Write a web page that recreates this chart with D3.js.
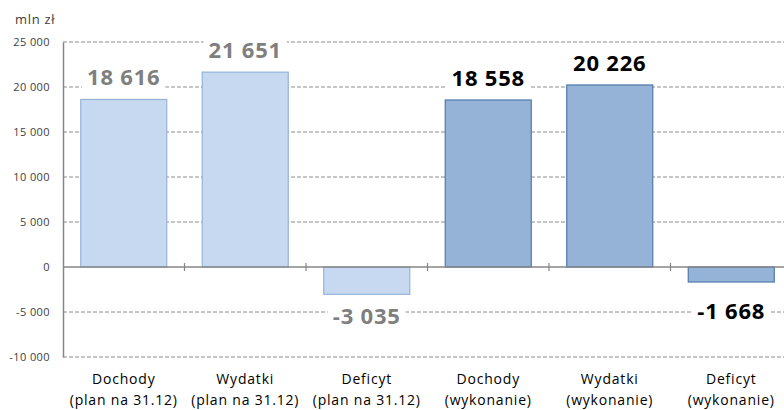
<!DOCTYPE html>
<html>
<head>
<meta charset="utf-8">
<script src="https://cdn.jsdelivr.net/npm/d3@7"></script>
<style>
  body { margin: 0; background: #fff; }
  svg text { font-family: "Open Sans", "DejaVu Sans", sans-serif; }
</style>
</head>
<body>
<svg id="chart" width="784" height="410"></svg>
<script>
// dane
const catNames = ['Dochody', 'Wydatki', 'Deficyt', 'Dochody', 'Wydatki', 'Deficyt'];
const catNotes = ['(plan na 31.12)', '(plan na 31.12)', '(plan na 31.12)', '(wykonanie)', '(wykonanie)', '(wykonanie)'];
const values = [18616, 21651, -3035, 18558, 20226, -1668];
const kind = ['plan', 'plan', 'plan', 'wyk', 'wyk', 'wyk'];
const yTicks = [-10000, -5000, 0, 5000, 10000, 15000, 20000, 25000];
const unit = 'mln zł';

const fill = { plan: '#c6d9f1', wyk: '#95b3d7' };
const stroke = { plan: '#95b3d7', wyk: '#4f79ab' };
const labelColor = { plan: '#7f7f7f', wyk: '#000000' };

const pl = d3.formatLocale({ decimal: ',', thousands: ' ', grouping: [3], currency: ['', ' zł'], minus: '-' });
const fmt = pl.format(',d');

const svg = d3.select('#chart');

// skale
const y = d3.scaleLinear().domain([-10000, 25000]).range([357, 42]);
const x = d3.scaleBand().domain(d3.range(values.length)).range([63, 792])
  .paddingInner(0.292).paddingOuter(0.146);
const step = x.step();

// siatka
svg.append('g').selectAll('line').data(yTicks.filter(d => d !== 0)).join('line')
  .attr('x1', 63).attr('x2', 792)
  .attr('y1', d => y(d)).attr('y2', d => y(d))
  .attr('stroke', '#8c8c8c').attr('stroke-width', 1)
  .attr('stroke-dasharray', '4,2');

// os Y
const yAxis = d3.axisLeft(y).tickValues(yTicks).tickSize(0).tickPadding(13).tickFormat(fmt);
const yg = svg.append('g').attr('transform', 'translate(63,0)').call(yAxis);
yg.select('.domain').attr('stroke', '#868686').attr('stroke-width', 1.5);
yg.selectAll('text').attr('font-size', 11).attr('fill', '#404040')
  .attr('letter-spacing', 0.4)
  .style('font-family', '"Open Sans", sans-serif');

svg.append('text').attr('x', 15).attr('y', 24).attr('font-size', 13).attr('fill', '#404040')
  .attr('letter-spacing', 0.7)
  .text(unit);

// slupki
svg.append('g').selectAll('rect').data(values).join('rect')
  .attr('x', (d, i) => x(i))
  .attr('width', x.bandwidth())
  .attr('y', d => y(Math.max(0, d)))
  .attr('height', d => Math.abs(y(d) - y(0)))
  .attr('fill', (d, i) => fill[kind[i]])
  .attr('stroke', (d, i) => stroke[kind[i]])
  .attr('stroke-width', 1.2);

// os X (linia zera)
const xg = svg.append('g').attr('transform', `translate(0,${y(0)})`);
xg.append('line').attr('x1', 63).attr('x2', 792).attr('stroke', '#868686').attr('stroke-width', 1.5);
xg.selectAll('line.tick').data(d3.range(1, values.length)).join('line')
  .attr('class', 'tick')
  .attr('x1', i => x(i) - step * 0.146).attr('x2', i => x(i) - step * 0.146)
  .attr('y1', -4).attr('y2', 4)
  .attr('stroke', '#868686').attr('stroke-width', 1.2);

// etykiety wartosci
const labels = svg.append('g');
values.forEach((v, i) => {
  const cx = x(i) + x.bandwidth() / 2;
  const cy = v >= 0 ? y(v) - 23 : Math.max(y(v) + 21, y(0) + 43);
  const g = labels.append('g');
  const bg = g.append('rect').attr('fill', '#fff');
  const t = g.append('text')
    .attr('x', cx).attr('y', cy)
    .attr('text-anchor', 'middle').attr('dominant-baseline', 'central')
    .attr('font-size', 22).attr('font-weight', 'bold')
    .attr('letter-spacing', 0.8)
    .attr('fill', labelColor[kind[i]])
    .text(fmt(v));
  const bb = t.node().getBBox();
  bg.attr('x', bb.x - 5).attr('y', bb.y).attr('width', bb.width + 10).attr('height', bb.height);
});

// kategorie
const cats = svg.append('g');
values.forEach((v, i) => {
  const cx = x(i) + x.bandwidth() / 2;
  const t = cats.append('text').attr('text-anchor', 'middle')
    .attr('font-size', 14).attr('fill', '#000').attr('letter-spacing', 0.8);
  t.append('tspan').attr('x', cx).attr('y', 384).text(catNames[i]);
  t.append('tspan').attr('x', cx).attr('y', 405).text(catNotes[i]);
});
</script>
</body>
</html>
